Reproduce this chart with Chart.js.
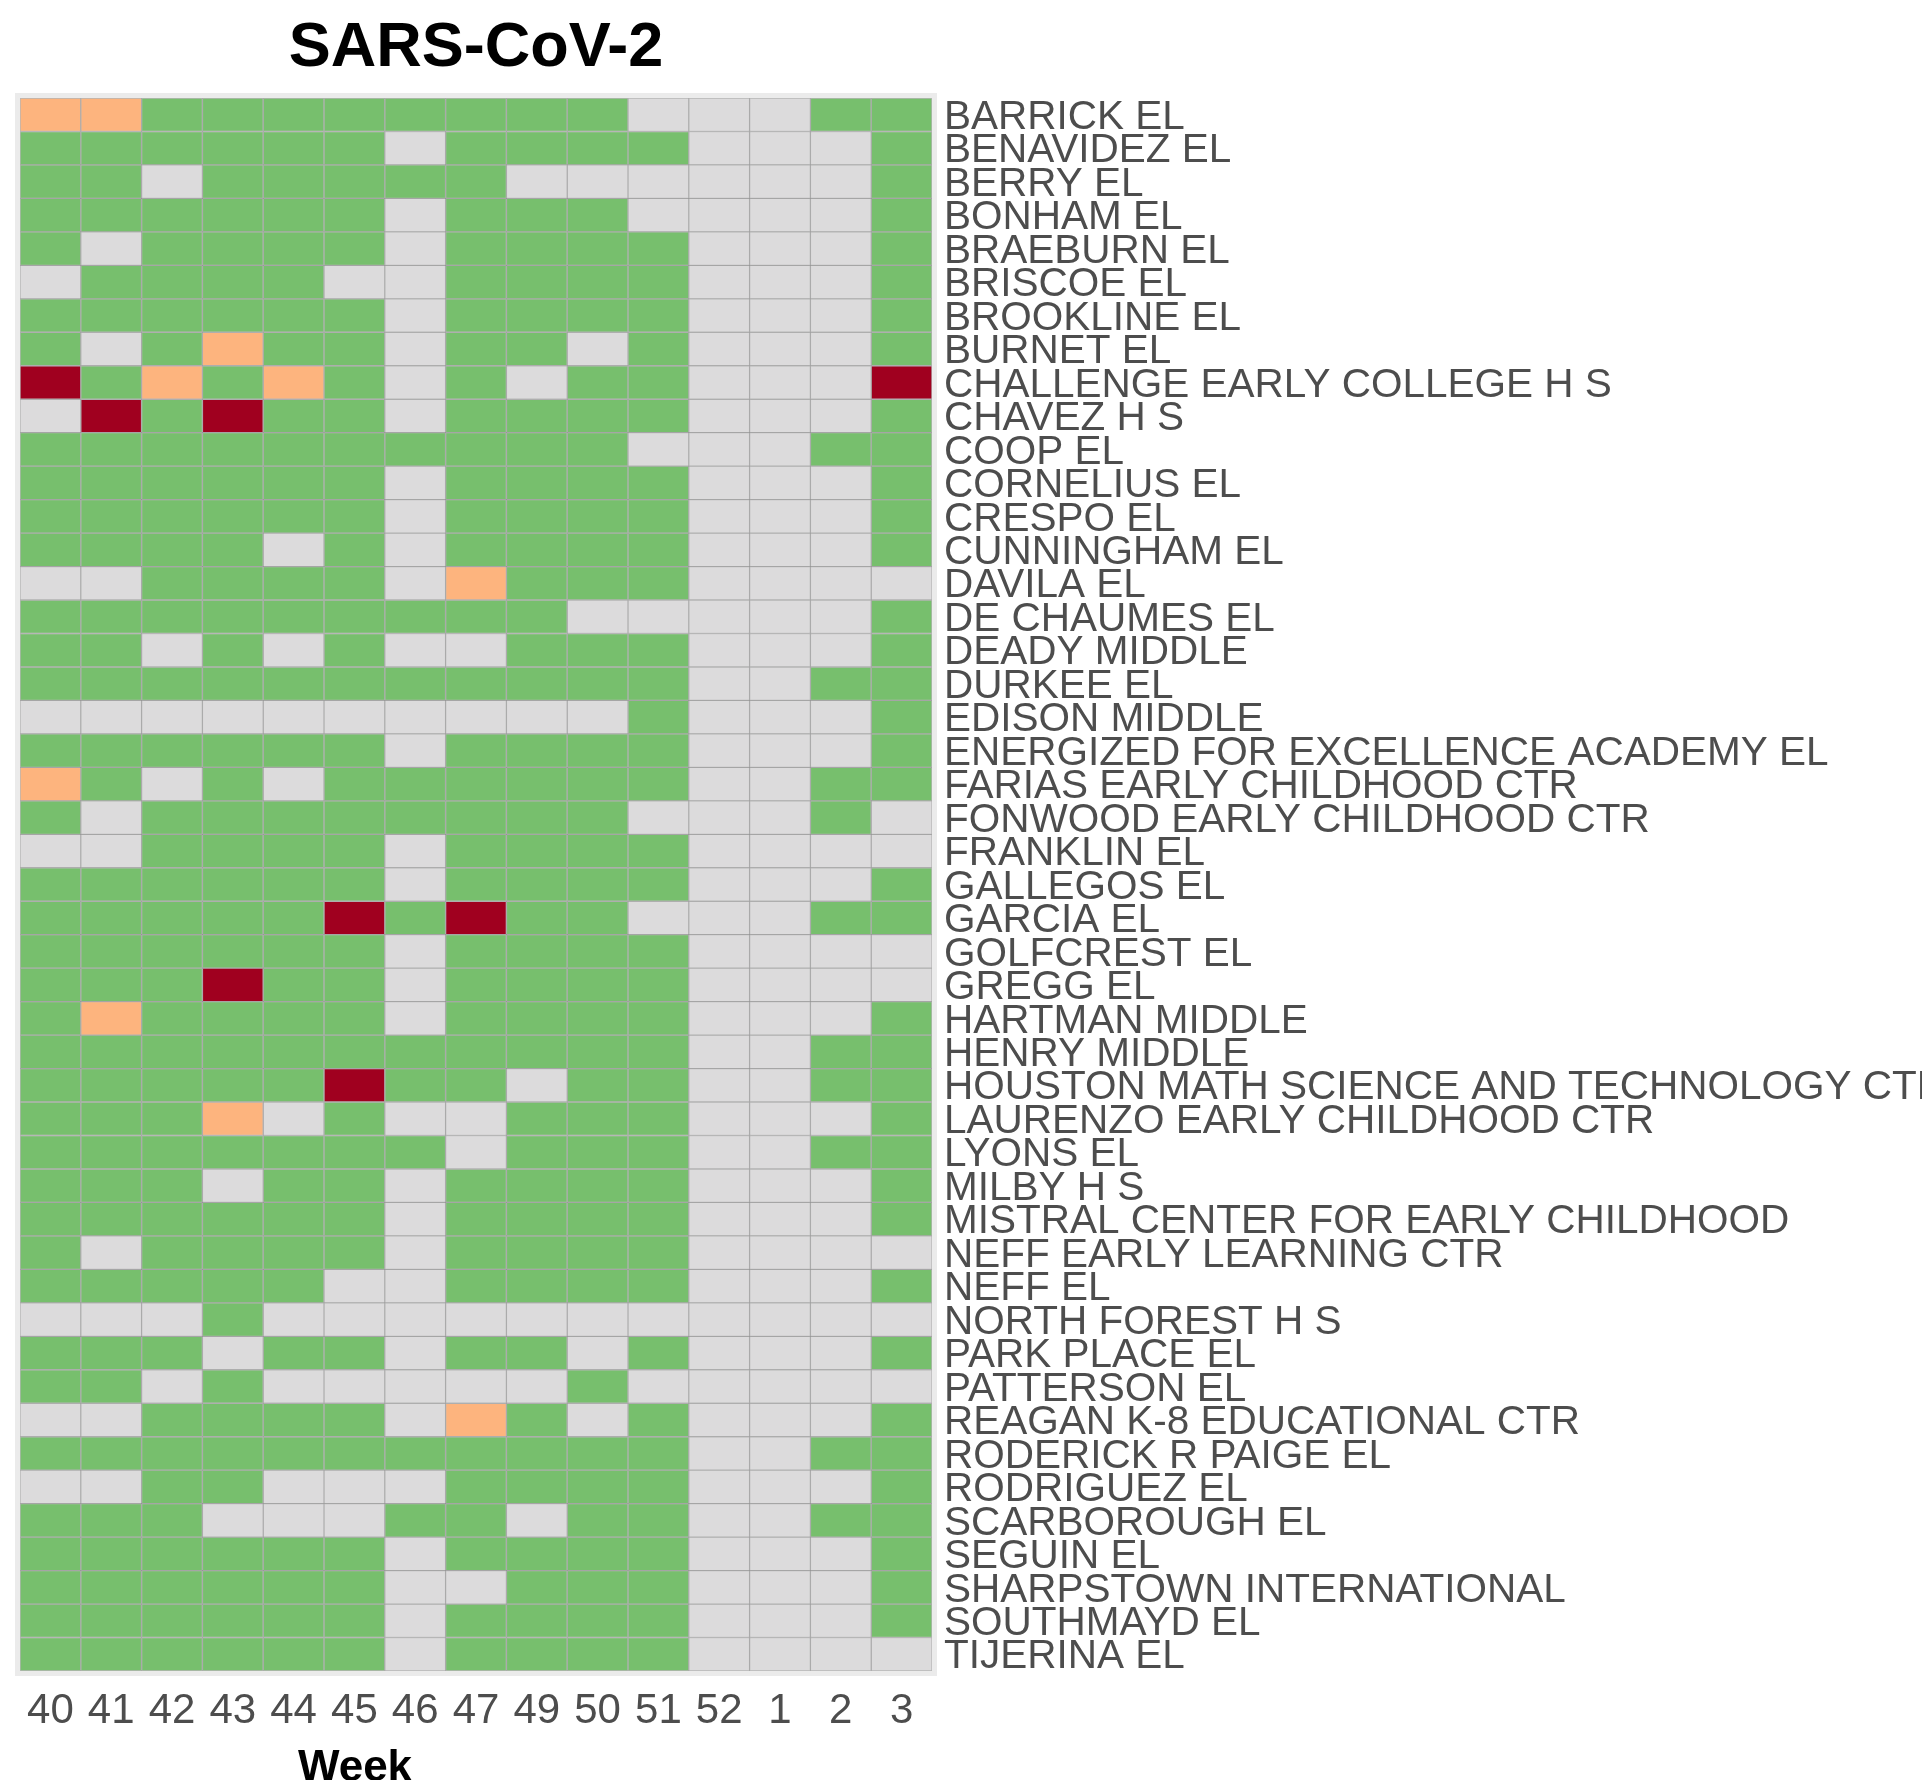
<!DOCTYPE html>
<html>
<head>
<meta charset="utf-8">
<script src="https://cdn.jsdelivr.net/npm/chart.js@4.4.1/dist/chart.umd.min.js"></script>
<style>
html, body { margin: 0; padding: 0; background: #fff; }
#wrap { width: 1922px; height: 1780px; }
</style>
</head>
<body>
<div id="wrap"><canvas id="heatmap" width="1922" height="1780"></canvas></div>
<script>
// Semanas (eje x)
var semanas = ['40', '41', '42', '43', '44', '45', '46', '47', '49', '50', '51', '52', '1', '2', '3'];

// Escuelas (eje y, de arriba a abajo)
var escuelas = [
    'BARRICK EL', 'BENAVIDEZ EL', 'BERRY EL', 'BONHAM EL', 'BRAEBURN EL', 'BRISCOE EL',
    'BROOKLINE EL', 'BURNET EL', 'CHALLENGE EARLY COLLEGE H S', 'CHAVEZ H S', 'COOP EL',
    'CORNELIUS EL', 'CRESPO EL', 'CUNNINGHAM EL', 'DAVILA EL', 'DE CHAUMES EL', 'DEADY MIDDLE',
    'DURKEE EL', 'EDISON MIDDLE', 'ENERGIZED FOR EXCELLENCE ACADEMY EL', 'FARIAS EARLY CHILDHOOD CTR',
    'FONWOOD EARLY CHILDHOOD CTR', 'FRANKLIN EL', 'GALLEGOS EL', 'GARCIA EL', 'GOLFCREST EL',
    'GREGG EL', 'HARTMAN MIDDLE', 'HENRY MIDDLE', 'HOUSTON MATH SCIENCE AND TECHNOLOGY CTR',
    'LAURENZO EARLY CHILDHOOD CTR', 'LYONS EL', 'MILBY H S', 'MISTRAL CENTER FOR EARLY CHILDHOOD',
    'NEFF EARLY LEARNING CTR', 'NEFF EL', 'NORTH FOREST H S', 'PARK PLACE EL', 'PATTERSON EL',
    'REAGAN K-8 EDUCATIONAL CTR', 'RODERICK R PAIGE EL', 'RODRIGUEZ EL', 'SCARBOROUGH EL',
    'SEGUIN EL', 'SHARPSTOWN INTERNATIONAL', 'SOUTHMAYD EL', 'TIJERINA EL'
];

// Estado por escuela y semana: G = muestra sin detección, N = sin muestra, O = detección baja, R = detección alta
var estados = [
    'OOGGGGGGGGNNNGG', 'GGGGGGNGGGGNNNG', 'GGNGGGGGNNNNNNG', 'GGGGGGNGGGNNNNG',
    'GNGGGGNGGGGNNNG', 'NGGGGNNGGGGNNNG', 'GGGGGGNGGGGNNNG', 'GNGOGGNGGNGNNNG',
    'RGOGOGNGNGGNNNR', 'NRGRGGNGGGGNNNG', 'GGGGGGGGGGNNNGG', 'GGGGGGNGGGGNNNG',
    'GGGGGGNGGGGNNNG', 'GGGGNGNGGGGNNNG', 'NNGGGGNOGGGNNNN', 'GGGGGGGGGNNNNNG',
    'GGNGNGNNGGGNNNG', 'GGGGGGGGGGGNNGG', 'NNNNNNNNNNGNNNG', 'GGGGGGNGGGGNNNG',
    'OGNGNGGGGGGNNGG', 'GNGGGGGGGGNNNGN', 'NNGGGGNGGGGNNNN', 'GGGGGGNGGGGNNNG',
    'GGGGGRGRGGNNNGG', 'GGGGGGNGGGGNNNN', 'GGGRGGNGGGGNNNN', 'GOGGGGNGGGGNNNG',
    'GGGGGGGGGGGNNGG', 'GGGGGRGGNGGNNGG', 'GGGONGNNGGGNNNG', 'GGGGGGGNGGGNNGG',
    'GGGNGGNGGGGNNNG', 'GGGGGGNGGGGNNNG', 'GNGGGGNGGGGNNNN', 'GGGGGNNGGGGNNNG',
    'NNNGNNNNNNNNNNN', 'GGGNGGNGGNGNNNG', 'GGNGNNNNNGNNNNN', 'NNGGGGNOGNGNNNG',
    'GGGGGGGGGGGNNGG', 'NNGGNNNGGGGNNNG', 'GGGNNNGGNGGNNGG', 'GGGGGGNGGGGNNNG',
    'GGGGGGNNGGGNNNG', 'GGGGGGNGGGGNNNG', 'GGGGGGNGGGGNNNN'
];

var coloresEstado = { G: '#77BF6D', N: '#DCDBDC', O: '#FDB47E', R: '#A0001F' };

var fuente = "'Liberation Sans', Arial, sans-serif";

// Un dataset por semana, cada celda vale 1 y se apila en horizontal
var conjuntos = semanas.map(function(semana, j) {
    return {
        label: semana,
        data: escuelas.map(function() { return 1; }),
        backgroundColor: escuelas.map(function(e, i) { return coloresEstado[estados[i][j]]; }),
        borderColor: 'rgba(110,110,110,0.42)',
        borderWidth: 1,
        borderSkipped: false,
        barPercentage: 1,
        categoryPercentage: 1
    };
});

// Marco gris, título y etiqueta del eje x
var decoracion = {
    id: 'decoracion',
    beforeDatasetsDraw: function(chart) {
        var a = chart.chartArea, ctx = chart.ctx;
        ctx.save();
        ctx.fillStyle = '#EBEBEB';
        ctx.fillRect(a.left - 5, a.top - 5, a.right - a.left + 10, a.bottom - a.top + 10);
        ctx.restore();
    },
    afterDraw: function(chart) {
        var a = chart.chartArea, ctx = chart.ctx;
        ctx.save();
        ctx.fillStyle = '#000';
        ctx.textAlign = 'center';
        ctx.textBaseline = 'alphabetic';
        ctx.font = 'bold 63px ' + fuente;
        ctx.fillText('SARS-CoV-2', (a.left + a.right) / 2, 66);
        ctx.font = 'bold 44px ' + fuente;
        ctx.fillText('Week', 355, 1781);
        ctx.restore();
    }
};

document.addEventListener('DOMContentLoaded', function() {
    var ctx = document.getElementById('heatmap').getContext('2d');
    new Chart(ctx, {
        type: 'bar',
        data: { labels: escuelas, datasets: conjuntos },
        options: {
            indexAxis: 'y',
            responsive: false,
            animation: false,
            layout: { padding: { left: 20, top: 98, right: 0, bottom: 0 } },
            scales: {
                x: {
                    type: 'linear',
                    stacked: true,
                    min: 0,
                    max: semanas.length,
                    position: 'bottom',
                    grid: { display: false, drawTicks: false },
                    border: { display: false },
                    afterBuildTicks: function(eje) {
                        eje.ticks = semanas.map(function(s, i) { return { value: i + 0.5 }; });
                    },
                    afterFit: function(eje) { eje.height = 109; },
                    ticks: {
                        autoSkip: false,
                        maxRotation: 0,
                        padding: 15,
                        color: '#4D4D4D',
                        font: { family: fuente, size: 42 },
                        callback: function(valor, indice) { return semanas[indice]; }
                    }
                },
                y: {
                    type: 'category',
                    stacked: true,
                    position: 'right',
                    offset: true,
                    grid: { display: false, drawTicks: false },
                    border: { display: false },
                    afterFit: function(eje) { eje.width = 990; },
                    ticks: {
                        autoSkip: false,
                        padding: 12,
                        labelOffset: 3,
                        color: '#4D4D4D',
                        font: { family: fuente, size: 40.5 }
                    }
                }
            },
            plugins: {
                legend: { display: false },
                tooltip: { enabled: false },
                title: { display: false }
            }
        },
        plugins: [decoracion]
    });
});
</script>
</body>
</html>
